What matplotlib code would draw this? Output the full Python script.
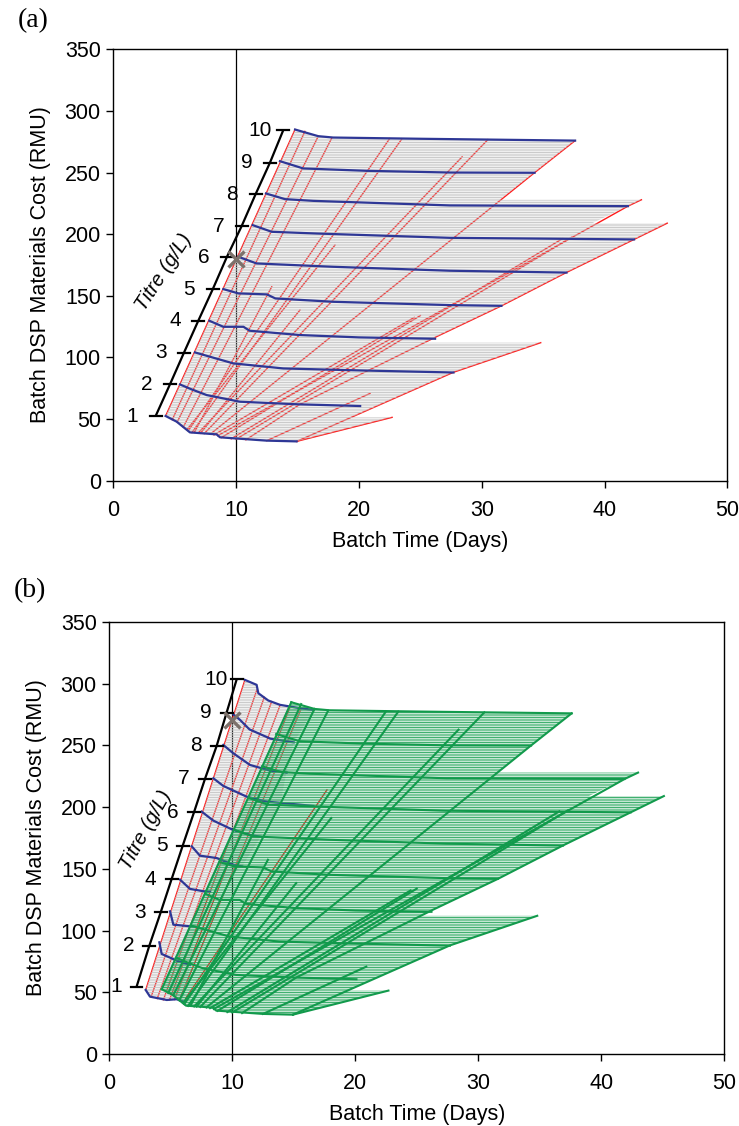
import matplotlib
matplotlib.use("Agg")
import matplotlib.pyplot as plt
from matplotlib.patches import Polygon

plt.rcParams['font.family'] = ['Liberation Sans', 'DejaVu Sans']
plt.rcParams['hatch.linewidth'] = 0.6

RED = "#ff1a1a"
BLUE = "#2e3796"
GREY = "#c2c2c2"
GREEN = "#129a4c"
GREEN_FILL = "#2ea862"

titres = [1, 2, 3, 4, 5, 6, 7, 8, 9, 10]

# titre scale drawn inside each panel
tick_a_x = [3.45, 4.61, 5.75, 6.92, 8.09, 9.23, 10.45, 11.59, 12.76, 13.84]
tick_a_y = [52.5, 78.1, 103.8, 129.8, 155.2, 181.2, 206.6, 232.6, 258.2, 284.5]
tick_b_x = [2.22, 3.25, 4.18, 5.07, 5.97, 6.89, 7.78, 8.73, 9.54, 10.36]
tick_b_y = [54.6, 87.6, 114.8, 141.8, 168.8, 195.9, 222.9, 249.6, 276.6, 303.6]

# cost curves at integer titre, panel (a)
blue_a_x = [
    [4.26, 5.16, 6.24, 8.41, 8.69, 12.49, 14.93],
    [5.43, 6.38, 7.6, 10.3, 15.0, 20.1],
    [6.65, 7.87, 9.77, 13.84, 20.0, 27.7],
    [7.82, 8.96, 10.6, 11.1, 15.2, 20.0, 26.2],
    [8.96, 10.18, 12.5, 13.2, 17.9, 27.4, 31.6],
    [10.18, 11.67, 17.9, 27.4, 36.9],
    [11.35, 12.9, 16.56, 27.4, 42.4],
    [12.43, 13.98, 16.29, 27.4, 41.9],
    [13.57, 15.47, 20.6, 27.4, 34.3],
    [14.8, 16.69, 17.9, 25.0, 37.6],
]
blue_a_y = [
    [52.5, 47.9, 39.2, 37.6, 35.2, 32.5, 31.9],
    [78.1, 74.1, 69.5, 64.1, 62.0, 60.6],
    [104.1, 100.6, 95.2, 91.1, 89.5, 87.8],
    [129.8, 124.9, 124.9, 121.7, 118.2, 116.3, 115.2],
    [155.5, 152.0, 151.2, 147.9, 145.2, 142.5, 141.9],
    [181.7, 176.3, 173.6, 170.4, 168.9],
    [207.4, 202.0, 200.6, 197.1, 195.8],
    [233.1, 228.5, 227.1, 223.4, 222.8],
    [259.3, 253.4, 251.5, 250.1, 249.9],
    [285.0, 279.6, 278.5, 277.5, 276.0],
]

# outline of the region covered by the titre sweep, panel (a)
region_a_x = [4.26, 5.16, 6.24, 8.41, 8.69, 12.49, 14.93, 22.7, 19.4, 27.7, 34.8, 25.4,
              26.3, 31.6, 36.9, 42.4, 45.1, 39.0, 41.9, 43.0, 31.5, 34.3, 37.6,
              25.0, 17.9, 16.69, 14.8]
region_a_y = [52.5, 47.9, 39.2, 37.6, 35.2, 32.5, 31.9, 51.4, 51.4, 88.0, 112.0, 112.0,
              116.8, 141.9, 169.0, 195.8, 209.0, 209.0, 222.8, 228.0, 228.0, 250.0, 276.0,
              277.5, 278.5, 279.6, 285.0]

# constant-configuration lines, panel (a) (green in panel b)
red_a_x = [
    [4.26, 14.8], [4.8, 15.6], [5.2, 16.69], [5.7, 17.8], [6.1, 22.5], [6.4, 23.5],
    [6.9, 28.4], [7.4, 30.5], [7.9, 34.3, 37.6], [8.5, 41.9, 43.0],
    [6.0, 18.05], [6.6, 12.9], [7.1, 15.2], [8.2, 24.5], [8.8, 25.0],
    [9.6, 36.6], [10.0, 37.3],
    [10.8, 15.2, 26.3, 31.6, 36.9, 42.4, 45.1],
    [12.5, 20.9], [14.93, 27.7, 34.8], [14.93, 22.7],
]
red_a_y = [
    [52.5, 285.0], [49.5, 283.5], [47.5, 279.6], [43.5, 278.3], [40.5, 277.6], [39.0, 277.4],
    [38.6, 262.8], [38.2, 276.8], [37.8, 250.0, 276.0], [36.5, 222.8, 228.0],
    [41.5, 191.2], [39.2, 157.4], [38.5, 138.5], [37.2, 132.5], [35.0, 134.0],
    [34.0, 196.6], [33.7, 197.5],
    [33.2, 62.0, 116.8, 141.9, 169.0, 195.8, 209.0],
    [32.5, 70.8], [31.9, 88.0, 112.0], [31.9, 51.4],
]

# cost curves at integer titre, panel (b) left part
blue_b_x = [
    [2.96, 3.31, 4.67, 5.48, 6.02],
    [4.07, 4.26, 5.48, 6.56],
    [4.94, 5.21, 6.56, 7.0],
    [5.75, 6.56, 7.65, 8.2],
    [6.7, 7.37, 8.73, 10.08, 10.8],
    [7.51, 8.46, 10.08, 11.44, 12.3],
    [8.46, 9.27, 11.17, 12.8, 16.6],
    [9.27, 10.08, 11.44, 13.07, 14.42],
    [10.1, 10.6, 11.4, 13.1, 15.0],
    [11.03, 11.98, 12.12, 12.93, 13.88, 15.5, 16.6],
]
blue_b_y = [
    [51.9, 46.5, 43.8, 44.4, 42.5],
    [90.5, 81.1, 75.7, 72.2],
    [115.6, 104.8, 103.5, 103.0],
    [141.3, 133.8, 131.9, 131.5],
    [168.3, 160.7, 158.8, 153.4, 152.0],
    [196.4, 189.1, 181.5, 177.5, 176.0],
    [223.4, 217.2, 208.5, 204.5, 201.0],
    [250.4, 243.7, 234.2, 229.6, 228.0],
    [275.0, 271.0, 263.0, 255.5, 252.5],
    [303.1, 299.1, 292.3, 286.4, 282.9, 280.2, 278.8],
]

region_b_x = [2.96, 11.03, 11.98, 12.12, 12.93, 13.88, 15.5, 16.6, 15.0, 14.4, 13.9,
              12.3, 10.8, 8.2, 7.0, 6.56, 6.02, 5.48, 4.67, 3.31]
region_b_y = [51.9, 303.1, 299.1, 292.3, 286.4, 282.9, 280.2, 278.8, 252.5, 228.0, 203.0,
              176.0, 152.0, 131.5, 103.0, 72.2, 42.5, 44.4, 43.8, 46.5]

red_b_x = [[2.96, 11.03], [3.4, 12.0], [3.9, 12.6], [4.4, 13.2], [4.9, 13.9],
           [5.3, 14.7], [5.7, 15.6], [6.2, 17.7]]
red_b_y = [[51.9, 303.1], [46.3, 295.0], [45.0, 289.0], [44.0, 285.5], [44.0, 282.9],
           [44.2, 281.0], [44.2, 279.8], [45.0, 214.0]]

marker_a = (10.0, 179.6)
marker_b = (10.0, 270.7)


def hatched(ax, xs, ys, color, lw, z):
    with plt.rc_context({'hatch.linewidth': lw}):
        p = Polygon(list(zip(xs, ys)), closed=True, facecolor='none', edgecolor=color,
                    linewidth=0, hatch='----------', zorder=z)
    if hasattr(p, 'set_hatch_linewidth'):
        p.set_hatch_linewidth(lw)
    ax.add_patch(p)


def titre_scale(ax, tx, ty, label_xy, rot, off):
    ax.plot(tx, ty, color='black', lw=1.6, zorder=6, solid_capstyle='butt')
    for t, x, y in zip(titres, tx, ty):
        ax.plot([x - 0.48, x + 0.48], [y, y], color='black', lw=1.6, zorder=6)
        ax.text(x - off, y, str(t), ha='center', va='center', fontsize=15)
    ax.text(label_xy[0], label_xy[1], 'Titre (g/L)', rotation=rot, style='italic',
            ha='center', va='center', fontsize=14.5, rotation_mode='anchor')


def frame(ax):
    ax.set_xlim(0, 50)
    ax.set_ylim(0, 350)
    ax.set_xticks(range(0, 51, 10))
    ax.set_yticks(range(0, 351, 50))
    ax.tick_params(direction='out', length=5, width=1, labelsize=15.5)
    ax.tick_params(axis='x', pad=9)
    ax.tick_params(axis='y', pad=4)
    for s in ax.spines.values():
        s.set_linewidth(1.0)
    ax.set_xlabel('Batch Time (Days)', fontsize=15.5, labelpad=7)
    ax.set_ylabel('Batch DSP Materials Cost (RMU)', fontsize=15.5, labelpad=10)


fig = plt.figure(figsize=(7.39, 11.26), dpi=100)
ax1 = fig.add_axes([0.1533, 0.5731, 0.831, 0.383])
ax2 = fig.add_axes([0.1479, 0.0639, 0.832, 0.3837])

# panel (a)
ax1.axvline(10, color='black', lw=0.9, zorder=1)
for xs, ys in zip(red_a_x, red_a_y):
    ax1.plot(xs, ys, color=RED, lw=1.0, zorder=2)
hatched(ax1, region_a_x, region_a_y, GREY, 0.6, 3)
for xs, ys in zip(blue_a_x, blue_a_y):
    ax1.plot(xs, ys, color=BLUE, lw=1.6, zorder=4)
titre_scale(ax1, tick_a_x, tick_a_y, (4.1, 169.5), 57, 1.9)
ax1.plot(*marker_a, marker='x', ms=12, mew=2.4, color='#7c716b', zorder=7)
frame(ax1)

# panel (b)
ax2.axvline(10, color='black', lw=0.9, zorder=1)
for xs, ys in zip(red_b_x, red_b_y):
    ax2.plot(xs, ys, color=RED, lw=1.0, zorder=2)
hatched(ax2, region_b_x, region_b_y, GREY, 0.6, 3)
for xs, ys in zip(blue_b_x, blue_b_y):
    ax2.plot(xs, ys, color=BLUE, lw=1.6, zorder=4)
hatched(ax2, region_a_x, region_a_y, GREEN_FILL, 0.65, 5)
for xs, ys in zip(red_a_x, red_a_y):
    ax2.plot(xs, ys, color=GREEN, lw=1.5, zorder=6)
for xs, ys in zip(blue_a_x, blue_a_y):
    ax2.plot(xs, ys, color=GREEN, lw=1.5, zorder=6)
titre_scale(ax2, tick_b_x, tick_b_y, (3.0, 181.0), 61, 1.7)
ax2.plot(*marker_b, marker='x', ms=12, mew=2.4, color='#7c716b', zorder=7)
frame(ax2)

fig.text(33 / 739, 1 - 21 / 1126, '(a)', family=['Liberation Serif', 'DejaVu Serif'],
         fontsize=20, ha='center', va='center')
fig.text(30 / 739, 1 - 591 / 1126, '(b)', family=['Liberation Serif', 'DejaVu Serif'],
         fontsize=20, ha='center', va='center')

fig.savefig('out.png', dpi=100)
